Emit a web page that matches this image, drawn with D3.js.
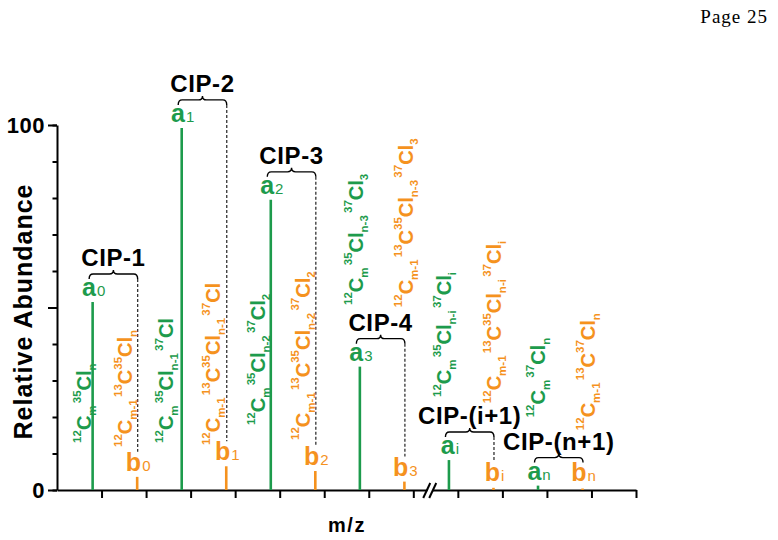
<!DOCTYPE html>
<html><head><meta charset="utf-8">
<script src="https://cdn.jsdelivr.net/npm/d3@7"></script>
<style>body{margin:0;background:#fff}svg{display:block}</style>
</head><body>
<svg id="c" width="778" height="540"></svg>
<script>
// ---------- data ----------
const peakIds = ["0", "1", "2", "3", "i", "n"];
const aPositions = [0.8, 2.8, 4.8, 6.8, 8.8, 10.8];
const bPositions = [1.8, 3.8, 5.8, 7.8, 9.8, 11.8];
const aValues = [51.5, 99.2, 79.5, 33.8, 8.2, 1.2];
const bValues = [3.6, 6.5, 5.2, 2.3, 0.6, 0.4];
const cipLabels = ["CIP-1", "CIP-2", "CIP-3", "CIP-4", "CIP-(i+1)", "CIP-(n+1)"];
const yTickValues = [0, 10, 20, 30, 40, 50, 60, 70, 80, 90, 100];
const yMajorTicks = [0, 50, 100];
const yTickLabels = {0: "0", 100: "100"};
const xTickValues = [1, 2, 3, 4, 5, 6, 7, 8, 9, 10, 11, 12, 13];
const axisBreakAt = 8.38;
const greenFormulas = ["^12C_m ^35Cl_n", "^12C_m ^35Cl_n-1 ^37Cl", "^12C_m ^35Cl_n-2 ^37Cl_2",
                       "^12C_m ^35Cl_n-3 ^37Cl_3", "^12C_m ^35Cl_n-i ^37Cl_i", "^12C_m ^37Cl_n"];
const orangeFormulas = ["^12C_m-1 ^13C^35Cl_n", "^12C_m-1 ^13C^35Cl_n-1 ^37Cl", "^12C_m-1 ^13C^35Cl_n-2 ^37Cl_2",
                        "^12C_m-1 ^13C^35Cl_n-3 ^37Cl_3", "^12C_m-1 ^13C^35Cl_n-i ^37Cl_i", "^12C_m-1 ^13C^37Cl_n"];
// annotation anchors: [x (m/z units), bottom (abundance units)]
const greenFormulaAt = [[0.77, 12.9], [2.61, 12.9], [4.68, 17.8], [6.87, 50.7], [8.85, 25.5], [10.95, 19.9]];
const orangeFormulaAt = [[1.69, 11.8], [3.67, 12.3], [5.68, 13.7], [7.99, 50.1], [9.98, 23.8], [12.07, 16.4]];

// ---------- setup ----------
const GREEN = "#1d9b4c", ORANGE = "#f5921e";
const FONT = "'Liberation Sans', Arial, Helvetica, sans-serif";
const svg = d3.select("#c");
const x = d3.scaleLinear().domain([0, 13]).range([57, 636]);
const y = d3.scaleLinear().domain([0, 100]).range([490, 125]);

// page number
svg.append("text").attr("x", 768).attr("y", 23).attr("text-anchor", "end")
  .attr("font-family", "'Liberation Serif', 'Times New Roman', serif").attr("font-size", 19)
  .attr("letter-spacing", 1).text("Page 25");

// ---------- axes ----------
const gy = svg.append("g").attr("transform", `translate(${x(0)},0)`);
gy.call(d3.axisLeft(y).tickValues(yTickValues).tickSize(4.5).tickFormat("").tickSizeOuter(0));
const gy2 = svg.append("g").attr("transform", `translate(${x(0)},0)`);
gy2.call(d3.axisLeft(y).tickValues(yMajorTicks).tickSize(9).tickFormat(d => yTickLabels[d] || "").tickSizeOuter(0));
gy2.select(".domain").remove();
[gy, gy2].forEach(g => {
  g.selectAll("path,line").attr("stroke", "#000").attr("stroke-width", 2);
  g.selectAll("text").attr("font-family", FONT).attr("font-weight", "bold").attr("font-size", 22)
    .attr("fill", "#000").attr("x", -12).attr("letter-spacing", 0.5);
});

const gx = svg.append("g").attr("transform", `translate(0,${y(0)})`);
gx.call(d3.axisBottom(x).tickValues(xTickValues).tickSize(8).tickSizeOuter(0).tickFormat(""));
gx.selectAll("path,line").attr("stroke", "#000").attr("stroke-width", 2);

// axis break
const bx = x(axisBreakAt), by0 = y(0);
svg.append("polygon")
  .attr("points", `${bx-6},${by0+8} ${bx-1},${by0+8} ${bx+6},${by0-7} ${bx+1},${by0-7}`)
  .attr("fill", "#fff");
[-7, -1].forEach(o => {
  svg.append("line").attr("x1", bx + o).attr("y1", by0 + 8).attr("x2", bx + o + 7).attr("y2", by0 - 7)
    .attr("stroke", "#000").attr("stroke-width", 2);
});

// axis titles
svg.append("text").attr("transform", `translate(32,${(y(0)+y(100))/2 + 4}) rotate(-90)`)
  .attr("text-anchor", "middle").attr("font-family", FONT).attr("font-weight", "bold")
  .attr("font-size", 25).attr("letter-spacing", 1).text("Relative Abundance");
svg.append("text").attr("x", 347).attr("y", 532).attr("text-anchor", "middle")
  .attr("font-family", FONT).attr("font-weight", "bold").attr("font-size", 20)
  .attr("letter-spacing", 1.5).text("m/z");

// ---------- peaks ----------
const peaks = peakIds.map((id, i) => ({id, ax: aPositions[i], av: aValues[i], bx: bPositions[i], bv: bValues[i], cip: cipLabels[i]}));

svg.append("g").selectAll("line").data(peaks).join("line")
  .attr("x1", d => x(d.ax)).attr("x2", d => x(d.ax)).attr("y1", y(0)).attr("y2", d => y(d.av))
  .attr("stroke", GREEN).attr("stroke-width", 2.6);
svg.append("g").selectAll("line").data(peaks).join("line")
  .attr("x1", d => x(d.bx)).attr("x2", d => x(d.bx)).attr("y1", y(0)).attr("y2", d => y(d.bv))
  .attr("stroke", ORANGE).attr("stroke-width", 2.6);

// peak labels
peaks.forEach(d => {
  const aBase = y(d.av) - 6;
  const ta = svg.append("text").attr("x", x(d.ax) + 1).attr("y", aBase).attr("text-anchor", "middle")
    .attr("font-family", FONT).attr("fill", GREEN);
  ta.append("tspan").attr("font-size", 25).attr("font-weight", "bold").text("a");
  ta.append("tspan").attr("font-size", 15).attr("dx", 1).text(d.id);
  const bBase = Math.min(y(d.bv) - 6, 481);
  const tb = svg.append("text").attr("x", x(d.bx) + 1).attr("y", bBase).attr("text-anchor", "middle")
    .attr("font-family", FONT).attr("fill", ORANGE);
  tb.append("tspan").attr("font-size", 25).attr("font-weight", "bold").text("b");
  tb.append("tspan").attr("font-size", 15).attr("dx", 1).text(d.id);

  // brace + CIP label
  const braceY = aBase - 22;
  const x1 = x(d.ax) - 3.5, x2 = x(d.bx) + 0.5, m = (x1 + x2) / 2;
  svg.append("path")
    .attr("d", `M${x1},${braceY+5} Q${x1},${braceY} ${x1+4},${braceY} L${m-4},${braceY} Q${m},${braceY} ${m},${braceY-4} Q${m},${braceY} ${m+4},${braceY} L${x2-4},${braceY} Q${x2},${braceY} ${x2},${braceY+5}`)
    .attr("fill", "none").attr("stroke", "#000").attr("stroke-width", 1.4);
  svg.append("text").attr("x", m).attr("y", braceY - 8).attr("text-anchor", "middle")
    .attr("font-family", FONT).attr("font-weight", "bold").attr("font-size", 24)
    .attr("letter-spacing", 0.6).text(d.cip);
  const dashEnd = bBase - 19;
  if (dashEnd > braceY + 5) {
    svg.append("line").attr("x1", x2).attr("x2", x2).attr("y1", braceY + 5).attr("y2", dashEnd)
      .attr("stroke", "#333").attr("stroke-width", 1.3).attr("stroke-dasharray", "3,2");
  }
});

// ---------- rotated formula annotations ----------
function drawFormula(str, at, color) {
  const t = svg.append("text")
    .attr("transform", `translate(${x(at[0])},${y(at[1])}) rotate(-90)`)
    .attr("font-family", FONT).attr("font-weight", "bold").attr("fill", color);
  let cur = 0;
  const re = /\^([0-9]+)|_([^\^ ]+)|([A-Za-z]+)|( )/g;
  let mt;
  while ((mt = re.exec(str)) !== null) {
    let txt, size, off;
    if (mt[1]) { txt = mt[1]; size = 11.5; off = -10.5; }
    else if (mt[2]) { txt = mt[2]; size = 11.5; off = 5; }
    else if (mt[3]) { txt = mt[3]; size = 20; off = 0; }
    else { txt = "\u00a0"; size = 8; off = 0; }
    t.append("tspan").attr("font-size", size).attr("dy", off - cur).text(txt);
    cur = off;
  }
}
greenFormulas.forEach((s, i) => drawFormula(s, greenFormulaAt[i], GREEN));
orangeFormulas.forEach((s, i) => drawFormula(s, orangeFormulaAt[i], ORANGE));
</script>
</body></html>
